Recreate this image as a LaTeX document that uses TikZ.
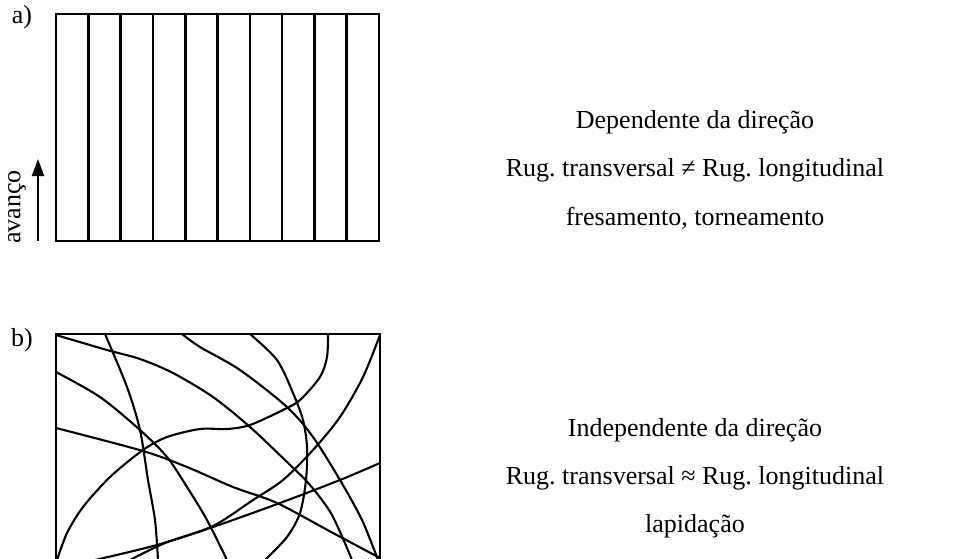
\documentclass[tikz,border=0pt]{standalone}
\usepackage{fontspec}
\setmainfont{Liberation Serif}
\usetikzlibrary{arrows.meta}
\begin{document}
\frenchspacing
\begin{tikzpicture}[x=1pt,y=-1pt,
  edge/.style={line width=2.6pt},
  rough/.style={line width=2.1pt, line cap=round, line join=round},
  lbl/.style={font=\fontsize{26}{31}\selectfont, inner sep=0pt, anchor=center},
]
\useasboundingbox (0,0) rectangle (978,558);
\clip (0,0) rectangle (978,558);
% ---- box a
\draw[edge] (56,14) rectangle (379,241);
\foreach \i in {1,...,9} \draw[edge] ({56+\i*32.3},14) -- ({56+\i*32.3},241);
\node[lbl] (la) at (22,17) {a)};
\coordinate (arrS) at (38,241);
\coordinate (arrE) at (38,159);
\draw[line width=2pt, -{Triangle[width=12pt,length=17pt]}] (arrS) -- (arrE);
\node[lbl, rotate=90] (avanco) at (17,207) {avanço};
% ---- box b
\node[lbl] (lb) at (22,340) {b)};
\draw[edge] (56,570) -- (56,334) -- (380,334) -- (380,570);
\draw[rough] plot[smooth] coordinates {(56,335) (107,350) (140,359) (173,373) (213,397) (250,427) (287,462) (310,485) (332,515) (352,560)};
\draw[rough] plot[smooth] coordinates {(105,334) (127,387) (140,430) (148,480) (155,520) (158,560)};
\draw[rough] plot[smooth] coordinates {(182,334) (200,347) (240,370) (287,407) (313,437) (340,480) (362,520) (378,560)};
\draw[rough] plot[smooth] coordinates {(250,334) (277,360) (293,393) (303,420) (307,447) (306,480) (300,513) (287,537) (265,560)};
\draw[rough] plot[smooth] coordinates {(328,334) (327,357) (320,377) (300,400) (283,410) (250,425) (227,429) (200,429) (167,437) (143,450) (110,477) (83,507) (67,533) (57,560)};
\draw[rough] plot[smooth] coordinates {(56,372) (100,397) (140,430) (167,457) (187,487) (207,520) (227,560)};
\draw[rough] plot[smooth] coordinates {(56,428) (143,451) (187,467) (233,487) (277,503) (333,533) (380,558)};
\draw[rough] plot[smooth] coordinates {(380,335) (363,377) (340,417) (313,450) (283,480) (253,500) (213,526) (165,543) (130,560)};
\draw[rough] plot[smooth] coordinates {(95,560) (157,545) (213,527) (280,503) (340,480) (380,463)};
% ---- texts
\node[lbl] (ta1) at (695,122) {Dependente da direção};
\node[lbl] (ta2) at (695,170) {Rug. transversal ≠ Rug. longitudinal};
\node[lbl] (ta3) at (695,218) {fresamento, torneamento};
\node[lbl] (tb1) at (695,430) {Independente da direção};
\node[lbl] (tb2) at (695,478) {Rug. transversal ≈ Rug. longitudinal};
\node[lbl] (tb3) at (695,526) {lapidação};
\end{tikzpicture}
\end{document}
